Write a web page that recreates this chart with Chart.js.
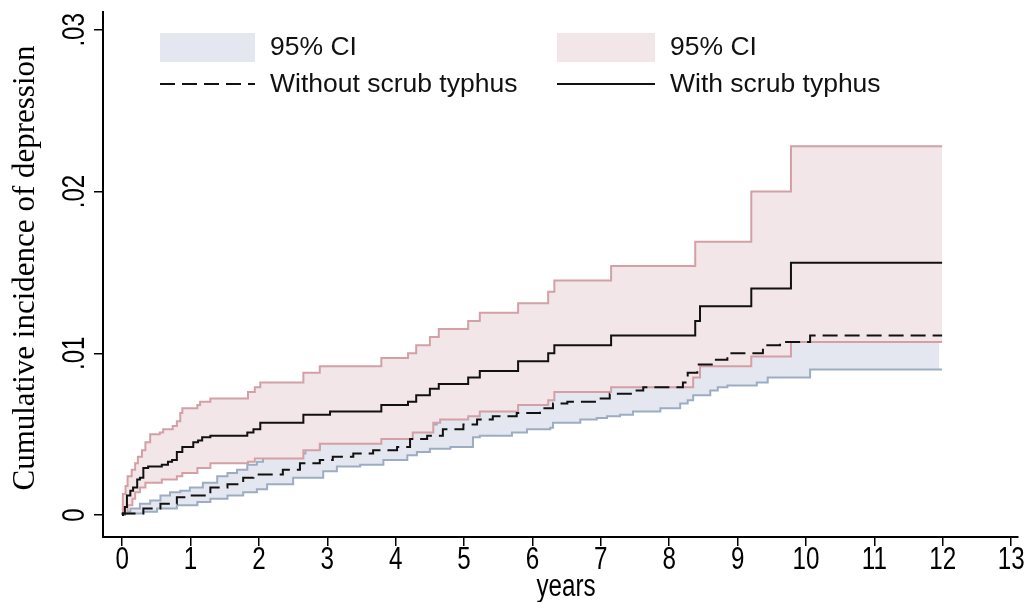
<!DOCTYPE html>
<html>
<head>
<meta charset="utf-8">
<script src="https://cdn.jsdelivr.net/npm/chart.js@4.4.1/dist/chart.umd.min.js"></script>
<style>
  body { margin: 0; background: #fff; }
  #wrap { width: 1026px; height: 602px; }
</style>
</head>
<body>
<div id="wrap"><canvas id="kmChart" width="1026" height="602"></canvas></div>
<script>
// cumulative incidence, pairs of [years, value]
const withScrub = [[0,0],[0.01,0.0001],[0.04,0.0005],[0.07,0.0012],[0.12,0.0015],[0.16,0.0017],[0.22,0.0022],[0.26,0.0023],[0.31,0.0029],[0.38,0.0030],[0.58,0.0031],[0.67,0.0033],[0.73,0.0034],[0.80,0.0039],[0.88,0.0042],[1.04,0.0045],[1.11,0.0046],[1.17,0.0048],[1.29,0.0049],[1.83,0.0051],[1.92,0.0053],[2.02,0.0057],[2.65,0.0062],[3.04,0.0064],[3.79,0.0068],[4.18,0.0070],[4.30,0.0074],[4.50,0.0078],[4.63,0.0081],[5.06,0.0085],[5.23,0.0089],[5.79,0.0095],[6.23,0.0100],[6.32,0.0105],[7.15,0.0111],[8.38,0.0120],[8.45,0.0129],[9.20,0.0140],[9.78,0.0156],[11.99,0.0156]];
const withUpper = [[0,0],[0.01,0.0013],[0.05,0.0018],[0.08,0.0024],[0.14,0.0028],[0.19,0.0032],[0.23,0.0036],[0.29,0.0040],[0.34,0.0045],[0.41,0.0050],[0.55,0.0051],[0.60,0.0053],[0.74,0.0055],[0.80,0.0058],[0.85,0.0063],[0.88,0.0066],[1.10,0.0068],[1.14,0.0070],[1.29,0.0072],[1.84,0.0076],[1.94,0.0079],[2.02,0.0082],[2.65,0.0088],[2.89,0.0092],[3.79,0.0097],[4.18,0.0100],[4.30,0.0105],[4.50,0.0110],[4.63,0.0115],[5.06,0.0120],[5.23,0.0125],[5.79,0.0131],[6.23,0.0138],[6.32,0.0145],[7.15,0.0154],[8.38,0.0169],[9.20,0.0200],[9.78,0.0228],[11.99,0.0228]];
const withLower = [[0,0],[0.01,0.0001],[0.08,0.0006],[0.15,0.0010],[0.19,0.0014],[0.26,0.0017],[0.34,0.0020],[0.58,0.0022],[0.80,0.0024],[0.88,0.0026],[1.10,0.0029],[1.29,0.0032],[1.84,0.0033],[1.94,0.0035],[2.65,0.0040],[2.89,0.0044],[3.79,0.0047],[4.25,0.0051],[4.55,0.0057],[4.65,0.0059],[5.06,0.0061],[5.23,0.0064],[5.79,0.0068],[6.23,0.0071],[6.32,0.0076],[7.15,0.0079],[8.35,0.0085],[8.45,0.0092],[9.20,0.0098],[9.78,0.0107],[11.99,0.0107]];
const withoutScrub = [[0,0],[0.01,0.0001],[0.31,0.0004],[0.56,0.0007],[0.80,0.0011],[0.99,0.0012],[1.29,0.0017],[1.54,0.0019],[1.77,0.0023],[1.92,0.0025],[2.35,0.0028],[2.60,0.0032],[2.89,0.0034],[3.08,0.0036],[3.38,0.0038],[3.67,0.0040],[4.02,0.0042],[4.21,0.0047],[4.46,0.0049],[4.69,0.0053],[4.99,0.0056],[5.19,0.0059],[5.42,0.0061],[5.77,0.0063],[6.11,0.0066],[6.30,0.0069],[6.51,0.0070],[6.94,0.0072],[7.13,0.0075],[7.47,0.0077],[7.62,0.0079],[8.20,0.0082],[8.27,0.0088],[8.41,0.0093],[8.64,0.0096],[8.85,0.0100],[9.37,0.0105],[9.62,0.0107],[10.06,0.0111],[11.99,0.0111]];
const withoutUpper = [[0,0],[0.04,0.0002],[0.12,0.0004],[0.26,0.0007],[0.41,0.0009],[0.56,0.0012],[0.70,0.0014],[0.85,0.0015],[0.99,0.0017],[1.18,0.0020],[1.39,0.0024],[1.54,0.0026],[1.68,0.0028],[1.83,0.0031],[1.97,0.0033],[2.06,0.0036],[2.50,0.0038],[2.68,0.0041],[2.89,0.0046],[3.30,0.0050],[4.00,0.0056],[4.60,0.0064],[5.20,0.0073],[5.80,0.0079],[6.30,0.0085],[7.00,0.0090],[7.60,0.0094],[8.30,0.0098],[8.50,0.0108],[9.00,0.0115],[9.60,0.0125],[10.10,0.0132],[11.95,0.0132]];
const withoutLower = [[0,0],[0.04,0.0001],[0.31,0.0002],[0.51,0.0004],[0.80,0.0006],[1.10,0.0008],[1.29,0.0010],[1.54,0.0012],[1.77,0.0014],[1.97,0.0016],[2.12,0.0019],[2.50,0.0023],[2.94,0.0027],[3.14,0.0030],[3.48,0.0031],[3.82,0.0034],[4.17,0.0037],[4.31,0.0039],[4.50,0.0041],[4.80,0.0042],[5.13,0.0048],[5.23,0.0049],[5.70,0.0051],[5.92,0.0053],[6.26,0.0054],[6.30,0.0057],[6.70,0.0059],[6.94,0.0060],[7.09,0.0061],[7.28,0.0062],[7.47,0.0064],[7.87,0.0066],[8.16,0.0069],[8.27,0.0071],[8.35,0.0074],[8.60,0.0077],[8.71,0.0079],[8.85,0.0080],[9.28,0.0082],[9.44,0.0085],[10.06,0.0090],[11.99,0.0090]];

const xTicks = [0,1,2,3,4,5,6,7,8,9,10,11,12,13];
const yTicks = [0, 0.01, 0.02, 0.03];
const yTickLabels = ['0', '.01', '.02', '.03'];
const legendLabels = ['95% CI', '95% CI', 'Without scrub typhus', 'With scrub typhus'];

const pinkFill = '#f3e6e8';
const pinkLine = '#d3a0a6';
const blueFill = '#e4e7ef';
const blueLine = '#9cadc3';
const tickFont = '31px "Liberation Sans", Arial, sans-serif';
const narrow = 0.78; // the original uses a narrow face, so squeeze it
const clear = 'rgba(0,0,0,0)';

function stepLine(data, color, extra) {
    return Object.assign({
        data: data,
        borderColor: color,
        borderWidth: 2,
        stepped: 'before',
        pointRadius: 0,
        fill: false
    }, extra || {});
}

function narrowText(ctx, text, x, y, angle) {
    ctx.save();
    ctx.translate(x, y);
    ctx.rotate(angle);
    ctx.scale(narrow, 1);
    ctx.fillText(text, 0, 0);
    ctx.restore();
}

// axis labels, y title and the legend block
const extraText = {
    id: 'extraText',
    afterDraw(chart) {
        const ctx = chart.ctx;
        const x = chart.scales.x;
        const y = chart.scales.y;
        ctx.save();
        ctx.fillStyle = '#000';
        ctx.textAlign = 'center';
        ctx.font = tickFont;

        ctx.textBaseline = 'middle';
        xTicks.forEach(v => narrowText(ctx, String(v), x.getPixelForValue(v), 560, 0));
        narrowText(ctx, 'years', 566, 587, 0);

        ctx.textBaseline = 'bottom';
        yTicks.forEach((v, i) => narrowText(ctx, yTickLabels[i], y.right - 12, y.getPixelForValue(v), -Math.PI / 2));

        ctx.save();
        ctx.font = '31px "Liberation Serif", "Times New Roman", serif';
        ctx.textBaseline = 'middle';
        ctx.translate(26, 268);
        ctx.rotate(-Math.PI / 2);
        ctx.fillText('Cumulative incidence of depression', 0, 0);
        ctx.restore();

        // legend
        ctx.font = '26.5px "Liberation Sans", Arial, sans-serif';
        ctx.textAlign = 'left';
        ctx.textBaseline = 'middle';
        ctx.fillStyle = blueFill;
        ctx.fillRect(160, 33, 95, 29);
        ctx.fillStyle = pinkFill;
        ctx.fillRect(557, 33, 98, 29);
        ctx.strokeStyle = '#111';
        ctx.lineWidth = 2;
        ctx.setLineDash([15, 7]);
        ctx.beginPath();
        ctx.moveTo(160, 84);
        ctx.lineTo(255, 84);
        ctx.stroke();
        ctx.setLineDash([]);
        ctx.beginPath();
        ctx.moveTo(557, 84);
        ctx.lineTo(655, 84);
        ctx.stroke();
        ctx.fillStyle = '#111';
        ctx.fillText(legendLabels[0], 270, 48);
        ctx.fillText(legendLabels[1], 670, 48);
        ctx.fillText(legendLabels[2], 270, 85);
        ctx.fillText(legendLabels[3], 670, 85);
        ctx.restore();
    }
};

const ctx = document.getElementById('kmChart').getContext('2d');
new Chart(ctx, {
    type: 'line',
    data: {
        datasets: [
            stepLine(withScrub, '#111'),
            stepLine(withoutScrub, '#111', { borderDash: [15, 7] }),
            stepLine(withUpper, pinkLine),
            stepLine(withLower, pinkLine),
            stepLine(withUpper, clear, { fill: { target: 5 }, backgroundColor: pinkFill }),
            stepLine(withLower, clear),
            stepLine(withoutUpper, blueLine),
            stepLine(withoutLower, blueLine),
            stepLine(withoutUpper, clear, { fill: { target: 9 }, backgroundColor: blueFill }),
            stepLine(withoutLower, clear)
        ]
    },
    options: {
        responsive: false,
        animation: false,
        layout: { padding: { top: 12, right: 8, left: 0, bottom: 0 } },
        plugins: {
            legend: { display: false },
            tooltip: { enabled: false }
        },
        scales: {
            x: {
                type: 'linear',
                min: -0.28,
                max: 13.1,
                afterBuildTicks: s => { s.ticks = xTicks.map(v => ({ value: v })); },
                afterFit: s => { s.height = 65; },
                ticks: { display: false },
                grid: { drawOnChartArea: false, color: '#000', tickLength: 9, lineWidth: 1.5 },
                border: { color: '#000', width: 2 }
            },
            y: {
                type: 'linear',
                min: -0.00136,
                max: 0.0311,
                afterBuildTicks: s => { s.ticks = yTicks.map(v => ({ value: v })); },
                afterFit: s => { s.width = 103; },
                ticks: { display: false },
                grid: { drawOnChartArea: false, color: '#000', tickLength: 9, lineWidth: 1.5 },
                border: { color: '#000', width: 2 }
            }
        }
    },
    plugins: [extraText]
});
</script>
</body>
</html>
